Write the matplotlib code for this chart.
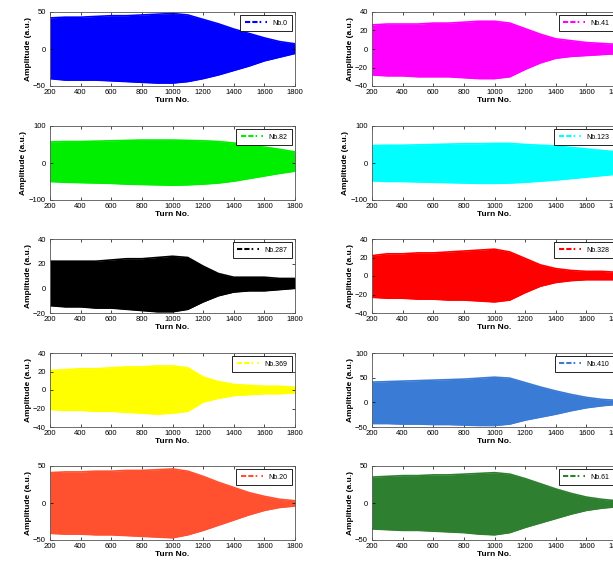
import matplotlib
matplotlib.use('Agg')
import matplotlib.pyplot as plt
from matplotlib.lines import Line2D

plt.rcParams['font.family'] = ['Liberation Sans', 'DejaVu Sans']

# turn numbers at which the envelope was read
turns = [200, 300, 400, 500, 600, 700, 800, 900, 1000, 1100, 1200, 1300, 1400, 1500, 1600, 1700, 1800]

labels = ['Nb.0', 'Nb.41', 'Nb.82', 'Nb.123', 'Nb.287', 'Nb.328', 'Nb.369', 'Nb.410', 'Nb.20', 'Nb.61']
colors = ['#0000ff', '#ff00ff', '#00ee00', '#00ffff', '#000000',
          '#ff0000', '#ffff00', '#3a7bd5', '#ff5030', '#2e8030']
ylims = [(-50, 50), (-40, 40), (-100, 100), (-100, 100), (-20, 40),
         (-40, 40), (-40, 40), (-50, 100), (-50, 50), (-50, 50)]
yticks = [[-50, 0, 50], [-40, -20, 0, 20, 40], [-100, 0, 100], [-100, 0, 100], [-20, 0, 20, 40],
          [-40, -20, 0, 20, 40], [-40, -20, 0, 20, 40], [-50, 0, 50, 100], [-50, 0, 50], [-50, 0, 50]]

upper = [
    [42, 43, 43, 44, 45, 45, 46, 47, 48, 46, 40, 34, 27, 21, 15, 10, 7],
    [26, 27, 27, 27, 28, 28, 29, 30, 30, 28, 22, 16, 11, 9, 7, 6, 5],
    [57, 58, 58, 59, 60, 61, 62, 62, 62, 61, 60, 58, 54, 49, 43, 37, 30],
    [47, 48, 48, 49, 50, 51, 52, 52, 53, 53, 50, 48, 46, 42, 38, 34, 30],
    [22, 22, 22, 22, 23, 24, 24, 25, 26, 25, 18, 12, 9, 9, 9, 8, 8],
    [22, 24, 24, 25, 25, 26, 27, 28, 29, 26, 19, 12, 8, 6, 5, 5, 4],
    [21, 22, 23, 23, 24, 25, 25, 26, 26, 24, 14, 9, 6, 5, 4, 4, 3],
    [41, 42, 43, 44, 45, 46, 47, 49, 51, 49, 40, 31, 23, 16, 10, 6, 4],
    [41, 42, 42, 43, 43, 44, 44, 45, 46, 43, 36, 28, 21, 14, 9, 5, 3],
    [35, 36, 37, 37, 38, 38, 39, 40, 41, 39, 33, 26, 19, 13, 8, 5, 3],
]
lower = [
    [-40, -42, -42, -42, -43, -44, -45, -46, -46, -44, -40, -35, -29, -23, -16, -11, -6],
    [-28, -29, -29, -30, -30, -30, -31, -32, -32, -30, -22, -15, -10, -8, -7, -6, -5],
    [-50, -52, -53, -54, -55, -57, -58, -59, -60, -59, -57, -54, -49, -42, -35, -28, -22],
    [-48, -50, -50, -51, -52, -53, -54, -55, -55, -54, -52, -49, -46, -42, -38, -34, -30],
    [-14, -15, -15, -16, -16, -17, -18, -19, -19, -17, -11, -6, -3, -2, -2, -1, 0],
    [-23, -24, -24, -25, -25, -26, -26, -27, -28, -26, -18, -11, -7, -5, -4, -4, -4],
    [-21, -22, -22, -23, -23, -24, -25, -26, -25, -23, -13, -9, -6, -5, -4, -4, -3],
    [-43, -43, -44, -44, -45, -45, -46, -47, -47, -44, -36, -30, -24, -17, -11, -7, -4],
    [-41, -42, -42, -43, -43, -44, -45, -46, -47, -43, -37, -30, -23, -16, -10, -6, -4],
    [-35, -36, -37, -37, -38, -39, -40, -42, -43, -40, -33, -27, -21, -15, -10, -7, -5],
]

W, H = 613, 564
fig = plt.figure(figsize=(W / 100, H / 100), dpi=100)

col_left = [50, 372]
row_top = [12, 126, 239, 353, 466]
ax_w, ax_h = 245, 74

for i in range(10):
    r, c = i // 2, i % 2
    ax = fig.add_axes([col_left[c] / W, 1 - (row_top[r] + ax_h) / H, ax_w / W, ax_h / H])
    ax.fill_between(turns, lower[i], upper[i], color=colors[i], linewidth=0)
    ax.plot(turns, upper[i], color=colors[i], linewidth=1.2)
    ax.plot(turns, lower[i], color=colors[i], linewidth=1.2)
    ax.set_xlim(200, 1800)
    ax.set_ylim(*ylims[i])
    ax.set_xticks(range(200, 1801, 200))
    ax.set_yticks(yticks[i])
    ax.tick_params(direction='in', top=True, right=True, length=2, width=0.5,
                   labelsize=5.5)
    ax.tick_params(axis='x', pad=2)
    ax.tick_params(axis='y', pad=3)
    for s in ax.spines.values():
        s.set_linewidth(0.6)
        s.set_color('#555555')
    ax.set_xlabel('Turn No.', fontsize=6, fontweight='bold', labelpad=1)
    ax.set_ylabel('Amplitude (a.u.)', fontsize=6, fontweight='bold', labelpad=1)
    h = Line2D([0], [0], color=colors[i], linewidth=1.5,
               dashes=[2.5, 1, 2.5, 1, 0.8, 2])
    leg = ax.legend([h], [labels[i]], loc='upper right', fontsize=5, fancybox=False,
                    framealpha=1, edgecolor='black', handlelength=3.2, borderpad=0.6,
                    borderaxespad=0.5)
    leg.get_frame().set_linewidth(0.6)

fig.savefig('out.png', dpi=100)
